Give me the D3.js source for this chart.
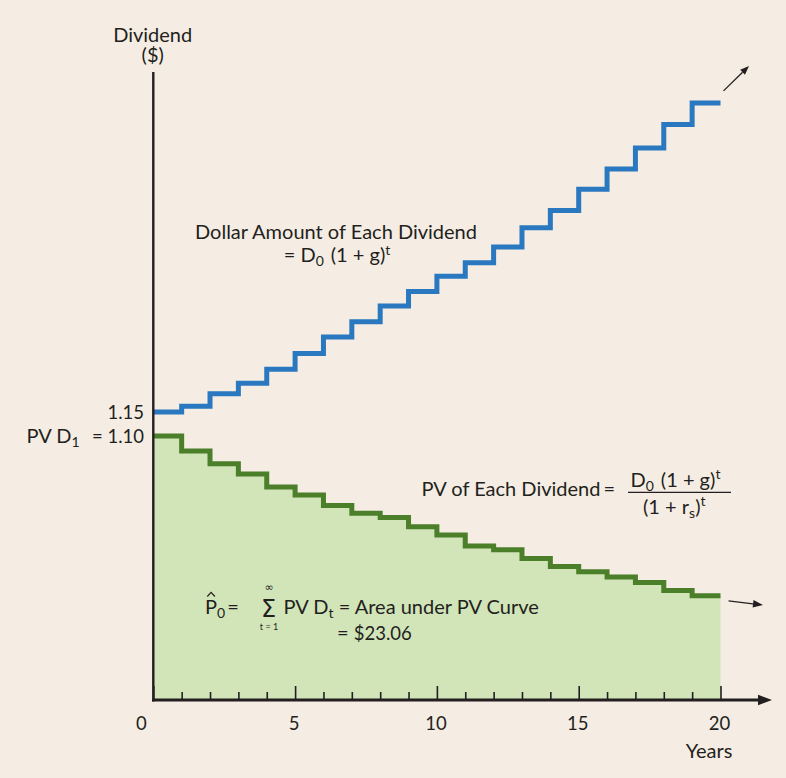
<!DOCTYPE html>
<html>
<head>
<meta charset="utf-8">
<script src="https://cdn.jsdelivr.net/npm/d3@7"></script>
<style>
  html, body { margin: 0; padding: 0; background: #f5ede3; }
  svg { display: block; }
  text { font-family: Lato, "Open Sans", sans-serif; fill: #231f20; }
</style>
</head>
<body>
<svg id="chart" width="786" height="778"></svg>
<script>
// Start of each one-year period (dividend paid over [t, t+1))
const periodStarts = [0, 1, 2, 3, 4, 5, 6, 7, 8, 9, 10, 11, 12, 13, 14, 15, 16, 17, 18, 19];
// Dollar amount of each dividend (schematic scale)
const dividendAmount = [1.150, 1.162, 1.188, 1.210, 1.239, 1.272, 1.306, 1.338, 1.371, 1.401,
                        1.433, 1.461, 1.494, 1.534, 1.570, 1.614, 1.656, 1.700, 1.749, 1.794];
// Present value of each dividend (schematic scale)
const dividendPV = [1.100, 1.069, 1.042, 1.021, 0.994, 0.977, 0.955, 0.939, 0.930, 0.911,
                    0.894, 0.871, 0.863, 0.845, 0.828, 0.817, 0.806, 0.795, 0.778, 0.767];
const lastYear = 20;
const majorTicks = [0, 5, 10, 15, 20];
const minorTicks = [1, 2, 3, 4, 6, 7, 8, 9, 11, 12, 13, 14, 16, 17, 18, 19];
const yLabels = [{ value: 1.15, text: "1.15" }, { value: 1.10, text: "= 1.10" }];

const COLORS = {
  bg: "#f5ede3", ink: "#231f20", blue: "#2a79c0",
  green: "#4b7f2a", fill: "#d1e5b9"
};
const WORD = "20px", NUM = "18.5px", SUB = "14px";

const svg = d3.select("#chart");
svg.append("rect").attr("width", 786).attr("height", 778).attr("fill", COLORS.bg);

const x = d3.scaleLinear().domain([0, 20]).range([153.3, 720.5]);
const y = d3.scaleLinear().domain([0.55, 1.15]).range([700, 412]);
const axisTop = 72;

// Step series: each value holds for its year, closed at the last year
const stepPoints = (vals) => periodStarts.map((t, i) => [t, vals[i]])
  .concat([[lastYear, vals[vals.length - 1]]]);
const bluePts = stepPoints(dividendAmount);
const greenPts = stepPoints(dividendPV);

const line = d3.line().x(d => x(d[0])).y(d => y(d[1])).curve(d3.curveStepAfter);
const area = d3.area().x(d => x(d[0])).y0(y(0.55)).y1(d => y(d[1])).curve(d3.curveStepAfter);

// Area under the PV curve
svg.append("path").datum(greenPts).attr("d", area).attr("fill", COLORS.fill);

// Axis ticks (pointing up, inside the plot)
const minorAxis = d3.axisBottom(x).tickValues(minorTicks).tickSizeInner(-8).tickSizeOuter(0).tickFormat("");
const majorAxis = d3.axisBottom(x).tickValues(majorTicks).tickSizeInner(-14).tickSizeOuter(0).tickFormat(d3.format("d"));
const gMinor = svg.append("g").attr("transform", "translate(0,700)").call(minorAxis);
const gMajor = svg.append("g").attr("transform", "translate(0,700)").call(majorAxis);
[gMinor, gMajor].forEach(g => {
  g.select(".domain").remove();
  g.selectAll(".tick line").attr("stroke", COLORS.ink).attr("stroke-width", 1.6);
});
gMajor.selectAll(".tick text")
  .attr("y", 30).attr("dy", null)
  .attr("dx", d => d === 0 ? -12.5 : -1.5)
  .style("font-size", NUM).attr("fill", COLORS.ink)
  .style("font-family", "Lato, 'Open Sans', sans-serif");

// Lines
svg.append("path").datum(bluePts).attr("d", line)
  .attr("fill", "none").attr("stroke", COLORS.blue).attr("stroke-width", 5)
  .attr("stroke-linejoin", "miter");
svg.append("path").datum(greenPts).attr("d", line)
  .attr("fill", "none").attr("stroke", COLORS.green).attr("stroke-width", 5)
  .attr("stroke-linejoin", "miter");

// Axes lines
svg.append("line").attr("x1", x(0)).attr("x2", x(0)).attr("y1", axisTop).attr("y2", 701.5)
  .attr("stroke", COLORS.ink).attr("stroke-width", 2.4);
svg.append("line").attr("x1", x(0) - 1.2).attr("x2", 762).attr("y1", 700).attr("y2", 700)
  .attr("stroke", COLORS.ink).attr("stroke-width", 3);
svg.append("path").attr("d", "M758,694.8 L772,700 L758,705.2 Z").attr("fill", COLORS.ink);

// Continuation arrows
function arrow(x1, y1, x2, y2, head) {
  const ang = Math.atan2(y2 - y1, x2 - x1);
  const bx = x2 - head * Math.cos(ang), by = y2 - head * Math.sin(ang);
  const w = head * 0.38;
  svg.append("line").attr("x1", x1).attr("y1", y1).attr("x2", bx).attr("y2", by)
    .attr("stroke", COLORS.ink).attr("stroke-width", 1.3);
  svg.append("path")
    .attr("d", `M${x2},${y2} L${bx - w * Math.sin(ang)},${by + w * Math.cos(ang)} L${bx + w * Math.sin(ang)},${by - w * Math.cos(ang)} Z`)
    .attr("fill", COLORS.ink);
}
arrow(x(20) + 3, y(dividendAmount[19]) - 12, 749, 66, 9);
arrow(x(20) + 8, y(dividendPV[19]) + 5, 763, 605, 10);

// Y axis title
svg.append("text").attr("x", 152.7).attr("y", 41.5).attr("text-anchor", "middle")
  .style("font-size", WORD).text("Dividend");
svg.append("text").attr("x", 152.7).attr("y", 61.5).attr("text-anchor", "middle")
  .style("font-size", WORD).text("($)");

// Y value labels
svg.append("text").attr("x", 144).attr("y", y(yLabels[0].value) + 6.5).attr("text-anchor", "end")
  .style("font-size", NUM).text(yLabels[0].text);
svg.append("text").attr("x", 144).attr("y", y(yLabels[1].value) + 6.5).attr("text-anchor", "end")
  .style("font-size", NUM).text(yLabels[1].text);
const pvd1 = svg.append("text").attr("x", 26.5).attr("y", y(yLabels[1].value) + 6.5).style("font-size", WORD);
pvd1.append("tspan").text("PV D");
pvd1.append("tspan").attr("dy", 4.5).style("font-size", SUB).text("1");

// Dividend amount label
svg.append("text").attr("x", 336).attr("y", 239).attr("text-anchor", "middle")
  .style("font-size", WORD).text("Dollar Amount of Each Dividend");
const f1 = svg.append("text").attr("x", 337).attr("y", 261.5).attr("text-anchor", "middle").style("font-size", WORD);
f1.append("tspan").text("= D");
f1.append("tspan").attr("dy", 4.5).style("font-size", SUB).text("0");
f1.append("tspan").attr("dy", -4.5).attr("dx", 7).text("(1 + g)");
f1.append("tspan").attr("dy", -7).style("font-size", SUB).text("t");

// PV label with fraction
svg.append("text").attr("x", 421.5).attr("y", 496).style("font-size", WORD)
  .text("PV of Each Dividend");
svg.append("text").attr("x", 603.5).attr("y", 496).style("font-size", WORD).text("=");
const num = svg.append("text").attr("x", 630.5).attr("y", 486.5).style("font-size", WORD);
num.append("tspan").text("D");
num.append("tspan").attr("dy", 4.5).style("font-size", SUB).text("0");
num.append("tspan").attr("dy", -4.5).attr("dx", 7).text("(1 + g)");
num.append("tspan").attr("dy", -7.5).style("font-size", SUB).text("t");
svg.append("line").attr("x1", 628).attr("x2", 731).attr("y1", 492.3).attr("y2", 492.3)
  .attr("stroke", COLORS.ink).attr("stroke-width", 1.2);
const den = svg.append("text").attr("x", 643).attr("y", 513.5).style("font-size", WORD);
den.append("tspan").text("(1 + r");
den.append("tspan").attr("dy", 4.5).style("font-size", SUB).text("s");
den.append("tspan").attr("dy", -4.5).text(")");
den.append("tspan").attr("dy", -7.5).style("font-size", SUB).text("t");

// Price as area under PV curve
svg.append("path").attr("d", "M207.3,596.5 L211.1,592.3 L214.9,596.5")
  .attr("fill", "none").attr("stroke", COLORS.ink).attr("stroke-width", 1.2);
const p0 = svg.append("text").attr("x", 205).attr("y", 613.5).style("font-size", WORD);
p0.append("tspan").text("P");
p0.append("tspan").attr("dy", 4.5).style("font-size", SUB).text("0");
p0.append("tspan").attr("dy", -4.5).attr("dx", 2).text("=");
svg.append("text").attr("x", 268.5).attr("y", 616.5).attr("text-anchor", "middle")
  .style("font-family", "'DejaVu Sans', sans-serif").style("font-size", "24px").text("Σ");
svg.append("text").attr("x", 269).attr("y", 591).attr("text-anchor", "middle")
  .style("font-family", "'DejaVu Sans', sans-serif").style("font-size", "11px").text("∞");
svg.append("text").attr("x", 269).attr("y", 630).attr("text-anchor", "middle")
  .style("font-size", "9px").text("t = 1");
const pv = svg.append("text").attr("x", 283.5).attr("y", 613.5).style("font-size", WORD);
pv.append("tspan").text("PV D");
pv.append("tspan").attr("dy", 4.5).style("font-size", SUB).text("t");
pv.append("tspan").attr("dy", -4.5).text(" = Area under PV Curve");
const price = svg.append("text").attr("x", 337).attr("y", 640).style("font-size", WORD);
price.append("tspan").text("= ");
price.append("tspan").style("font-size", NUM).text("$23.06");

// X axis title
svg.append("text").attr("x", 709).attr("y", 758).attr("text-anchor", "middle")
  .style("font-size", WORD).text("Years");
</script>
</body>
</html>
